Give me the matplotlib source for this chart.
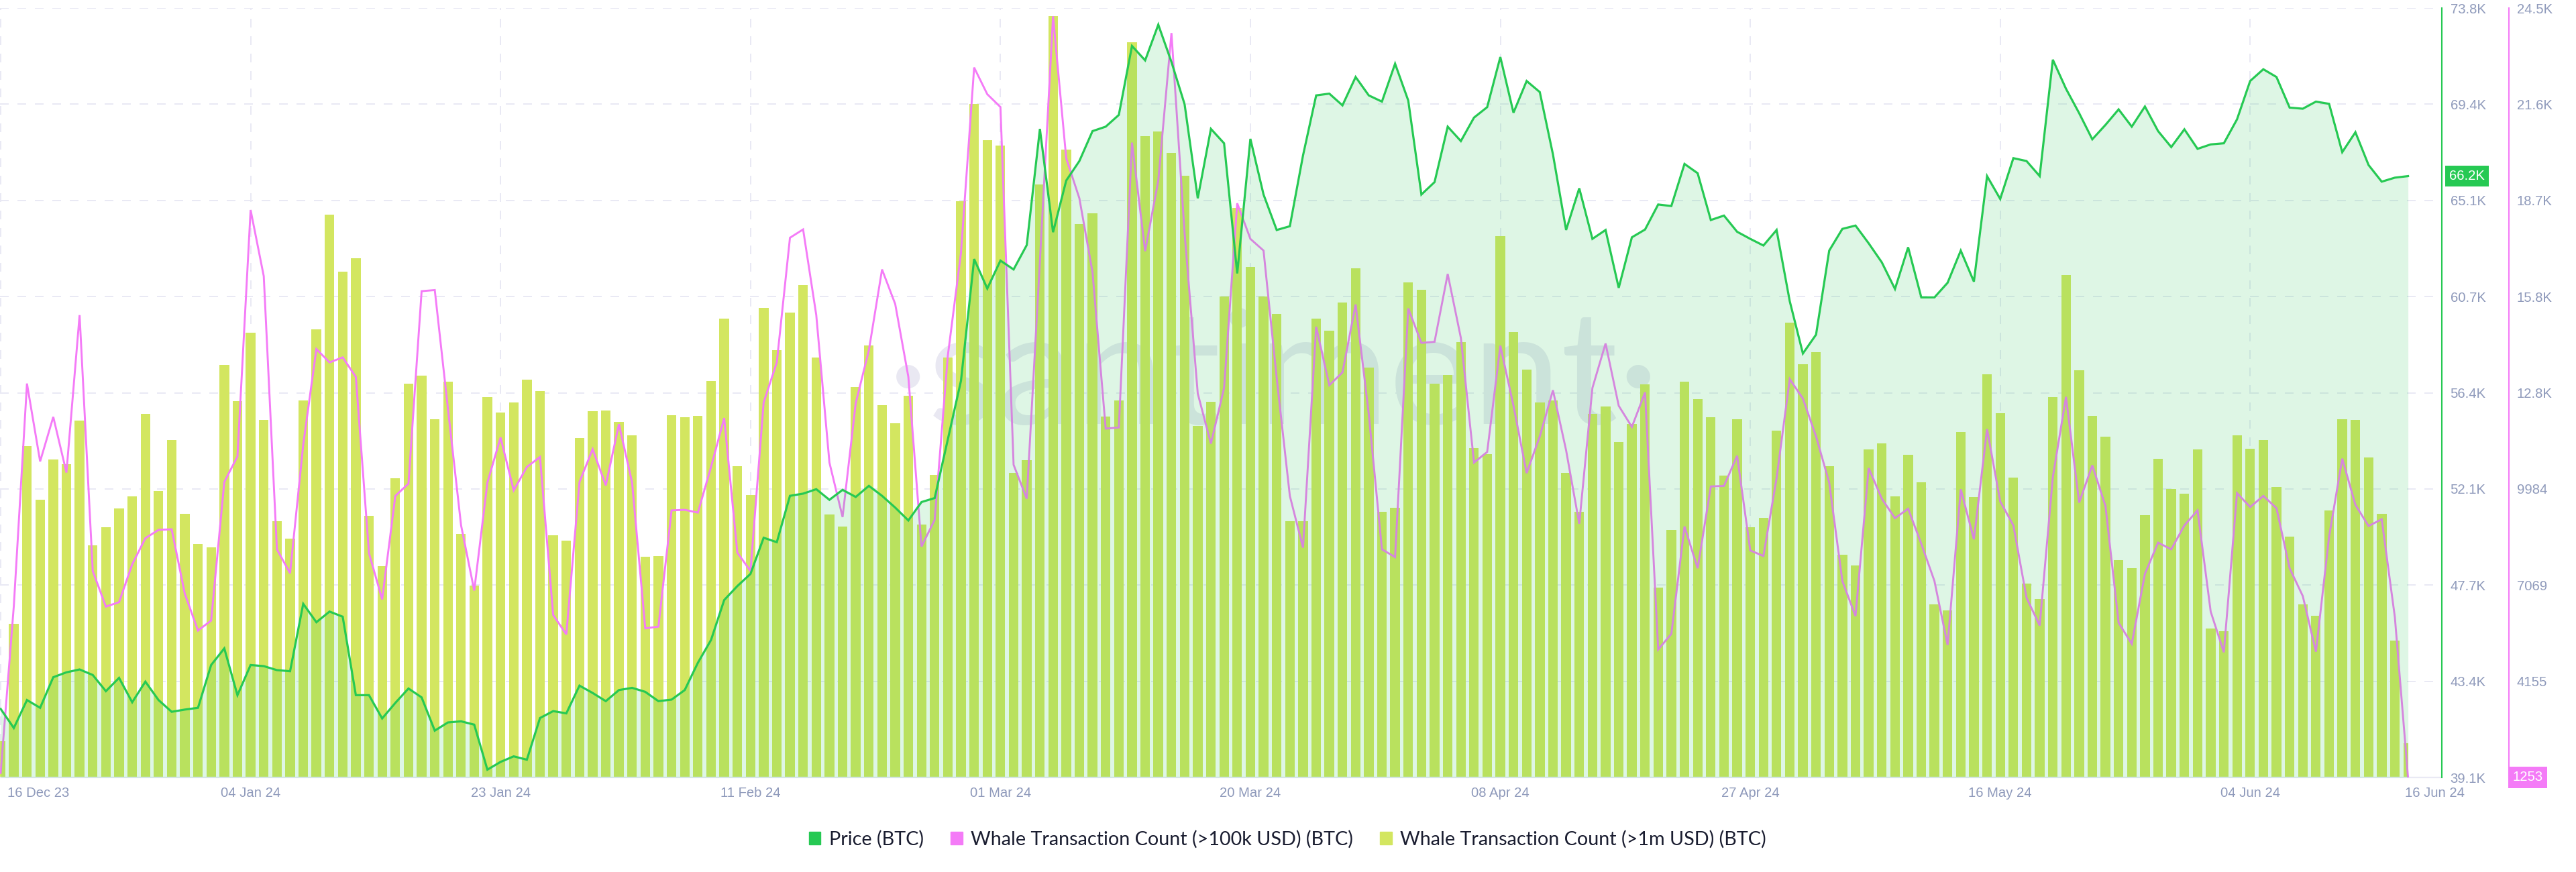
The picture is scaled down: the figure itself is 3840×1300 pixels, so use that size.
import matplotlib
matplotlib.use('Agg')
import matplotlib.dates as mdates
import matplotlib.pyplot as plt
import matplotlib.transforms as mtransforms
import numpy as np
import pandas as pd
from matplotlib.patches import Patch

dates = pd.date_range('2023-12-16', '2024-06-16', freq='D')

price_k = [
    42.19, 41.33, 42.59, 42.24, 43.62, 43.84, 43.97, 43.72, 42.99, 43.59, 42.49, 43.42, 42.59, 42.06, 42.16, 42.24,
    44.17, 44.92, 42.81, 44.17, 44.12, 43.94, 43.89, 46.93, 46.10, 46.58, 46.35, 42.81, 42.81, 41.76, 42.46, 43.11,
    42.71, 41.21, 41.58, 41.63, 41.48, 39.45, 39.80, 40.05, 39.90, 41.78, 42.09, 41.99, 43.24, 42.91, 42.54, 43.04,
    43.14,
    42.96, 42.54, 42.61, 43.04, 44.27, 45.30, 47.10, 47.73, 48.28, 49.91, 49.71, 51.80, 51.90, 52.10, 51.62, 52.07,
    51.75, 52.25, 51.80, 51.27, 50.69, 51.52, 51.70, 54.35, 56.99, 62.48, 61.15, 62.41, 62.01, 63.11, 68.35, 63.69,
    66.02, 66.90, 68.25, 68.45, 68.98, 72.09, 71.44, 73.05, 71.37, 69.46, 65.22, 68.35, 67.70, 61.83, 67.90, 65.39,
    63.79,
    63.96, 67.15, 69.86, 69.94, 69.41, 70.69, 69.86, 69.58, 71.29, 69.63, 65.39, 65.95, 68.45, 67.80, 68.86, 69.33,
    71.59, 69.08, 70.51, 70.01, 67.20, 63.79, 65.67, 63.39, 63.79, 61.18, 63.46, 63.81, 64.94, 64.87, 66.77, 66.35,
    64.24, 64.44, 63.71, 63.39, 63.09, 63.79, 60.58, 58.22, 59.07, 62.86, 63.84, 63.99, 63.19, 62.33, 61.13, 63.01,
    60.75,
    60.75, 61.41, 62.86, 61.46, 66.22, 65.19, 67.03, 66.90, 66.22, 71.47, 70.16, 69.06, 67.88, 68.53, 69.23, 68.45,
    69.36, 68.25, 67.53, 68.33, 67.45, 67.65, 67.70, 68.78, 70.51, 71.04, 70.69, 69.31, 69.26, 69.58, 69.48, 67.30,
    68.20, 66.72, 65.97, 66.15, 66.22,
]

whale_100k = [
    1387, 6430, 13154, 10801, 12146, 10465, 15222, 7490, 6414, 6548, 7691, 8481, 8733, 8750, 6800, 5691,
    5993, 10179, 10952, 18399, 16399, 8145, 7422, 11305, 14197, 13793, 13945, 13356, 8027, 6632, 9759, 10129,
    15945, 15979, 12398, 8868, 6901, 10162, 11524, 9927, 10633, 10936, 6162, 5573, 10179, 11171, 10078, 11927,
    10162,
    5758, 5809, 9322, 9339, 9255, 10633, 12112, 8044, 7490, 12583, 13793, 17559, 17811, 15222, 10767, 9120,
    12566, 14163, 16601, 15558, 13356, 8229, 9036, 13995, 17105, 22703, 21896, 21509, 10700, 9675, 16853, 24249,
    19963, 18752, 16516, 11793, 11826, 20433, 17155, 19290, 23745, 17693, 12852, 11339, 13020, 18601, 17525, 17172,
    13323,
    9759, 8196, 14869, 13104, 13491, 15542, 12230, 8145, 7910, 15424, 14382, 14415, 16466, 14533, 10767, 11087,
    14298, 12482, 10448, 11558, 12953, 11137, 8918, 13020, 14365, 12482, 11843, 12886, 5119, 5590, 8834, 7574,
    10045, 10061, 10969, 8111, 7943, 10297, 13289, 12701, 11558, 10162, 7187, 6128, 10599, 9675, 9086, 9372,
    8313,
    7187, 5254, 9961, 8448, 11776, 9591, 8868, 6683, 5842, 10330, 12751, 9557, 10683, 9456, 5926, 5287,
    7405, 8347, 8145, 8868, 9322, 6262, 5035, 9843, 9423, 9759, 9389, 7574, 6733, 5052, 8532, 10885,
    9490, 8851, 9053, 6094, 1253,
]

# the >1m series has no axis of its own in the chart, so these are on a relative scale
whale_1m = [
    65, 276, 596, 499, 572, 563, 642, 417, 450, 484, 505, 654, 515, 607, 474, 420,
    414, 741, 676, 800, 643, 460, 429, 678, 806, 1012, 909, 933, 470, 380, 538, 708,
    722, 644, 711, 438, 345, 684, 656, 674, 715, 695, 435, 426, 610, 658, 660, 639,
    615,
    397, 398, 651, 648, 650, 712, 825, 559, 508, 844, 768, 835, 885, 755, 473, 451,
    702, 776, 669, 637, 686, 455, 544, 755, 1036, 1211, 1146, 1136, 548, 570, 1066, 1368,
    1129, 995, 1014, 649, 678, 1321, 1153, 1161, 1123, 1082, 632, 675, 864, 1024, 917, 864,
    833,
    461, 460, 825, 803, 854, 915, 737, 478, 485, 890, 877, 708, 724, 783, 592, 581,
    973, 801, 733, 674, 678, 548, 478, 653, 667, 603, 636, 707, 341, 445, 711, 680,
    648, 543, 644, 450, 467, 623, 818, 743, 765, 560, 400, 381, 590, 600, 505, 580,
    531,
    311, 300, 621, 504, 725, 655, 539, 349, 321, 684, 903, 732, 650, 613, 391, 376,
    471, 573, 518, 510, 590, 268, 263, 615, 591, 607, 522, 433, 311, 290, 480, 644,
    643, 575, 474, 246, 62,
]

price_labels = ['39.1K', '43.4K', '47.7K', '52.1K', '56.4K', '60.7K', '65.1K', '69.4K', '73.8K']
whale_labels = ['', '4155', '7069', '9984', '12.8K', '15.8K', '18.7K', '21.6K', '24.5K']
date_ticks = ['2023-12-16', '2024-01-04', '2024-01-23', '2024-02-11', '2024-03-01',
              '2024-03-20', '2024-04-08', '2024-04-27', '2024-05-16', '2024-06-04']

GREEN = '#26c953'
PINK = '#f47bf7'
LIME = '#d3e660'
GRID = '#e9e9f4'
TICK = '#8f9abb'
TEXT = '#1a1d30'

plt.rcParams['font.family'] = ['Liberation Sans', 'DejaVu Sans']

fig = plt.figure(figsize=(38.4, 13), dpi=100)
ax = fig.add_axes([0, 1 - 1159 / 1300, 3640 / 3840, (1159 - 12) / 1300])
ax_pink = ax.twinx()
ax_price = ax.twinx()

x = mdates.date2num(dates)
grid_dash = (0, (6.5, 6.5))

# base axes: grid, watermark, bars
tick_x = mdates.date2num(pd.to_datetime(date_ticks))
for tx in tick_x:
    ax.axvline(tx, color=GRID, lw=1.44, linestyle=grid_dash, zorder=1)
for gy in np.linspace(0, 1, 9):
    ax.axhline(gy * 1383, color=GRID, lw=1.44, linestyle=grid_dash, zorder=1)
ax.text(0.5215, 0.4595, '·santiment·', transform=ax.transAxes, family='Lato',
        fontsize=170, color='#e9e8f2', ha='center', va='baseline', zorder=1.5)

ax.bar(x[:-1], whale_1m[:-1], width=0.73, color=LIME, zorder=2)
ax.bar(x[-1] - 0.18, whale_1m[-1], width=0.36, color=LIME, zorder=2)
ax.set_ylim(0, 1383)
ax.set_xlim(x[0] - 0.05, x[0] + 185.57)
ax.set_yticks([])
for side in ['top', 'left', 'right']:
    ax.spines[side].set_visible(False)
ax.spines['bottom'].set_color(GRID)
ax.spines['bottom'].set_linewidth(1.6)

ax.set_xticks(list(tick_x) + [x[-1]])
tick_texts = [pd.Timestamp(d).strftime('%d %b %y') for d in date_ticks] + ['16 Jun 24']
ax.set_xticklabels(tick_texts)
ax.tick_params(axis='x', length=0, pad=10, labelsize=14.6, labelcolor=TICK)
labels = ax.get_xticklabels()
labels[0].set_ha('left')
labels[0].set_transform(labels[0].get_transform() + mtransforms.ScaledTranslation(10 / 100, 0, fig.dpi_scale_trans))
labels[-1].set_transform(labels[-1].get_transform() + mtransforms.ScaledTranslation(40 / 100, 0, fig.dpi_scale_trans))

# pink axis
ax_pink.plot(x, whale_100k, color=PINK, lw=2.1, solid_joinstyle='miter', zorder=3)
ax_pink.set_ylim(1253, 24500)
ax_pink.set_yticks(np.linspace(1253, 24500, 9))
ax_pink.set_yticklabels(whale_labels)
ax_pink.spines['right'].set_position(('axes', 3740 / 3640 * 1.0))
ax_pink.spines['right'].set_color(PINK)
ax_pink.spines['right'].set_linewidth(1.5)
for side in ['top', 'left', 'bottom']:
    ax_pink.spines[side].set_visible(False)
ax_pink.tick_params(axis='y', length=0, pad=8.5, labelsize=14.6, labelcolor=TICK)

# green axis, drawn last so its area tints everything below
ax_price.fill_between(x, price_k, 39.1, color=GREEN, alpha=0.15, lw=0)
ax_price.plot(x, price_k, color=GREEN, lw=2.3, solid_joinstyle='miter')
ax_price.set_ylim(39.1, 73.8)
ax_price.set_yticks(np.linspace(39.1, 73.8, 9))
ax_price.set_yticklabels(price_labels)
ax_price.spines['right'].set_color(GREEN)
ax_price.spines['right'].set_linewidth(1.5)
for side in ['top', 'left', 'bottom']:
    ax_price.spines[side].set_visible(False)
ax_price.tick_params(axis='y', length=0, pad=9, labelsize=14.6, labelcolor=TICK)

# last value badges
ax_price.text(1.0103, price_k[-1], '66.2K', transform=ax_price.get_yaxis_transform(), ha='center', va='center',
              fontsize=14.6, color='white', clip_on=False, zorder=5,
              bbox=dict(boxstyle='square,pad=0.3', fc=GREEN, ec='none'))
ax_pink.text(1.0352, whale_100k[-1], '1253', transform=ax_pink.get_yaxis_transform(), ha='center', va='center',
             fontsize=14.6, color='white', clip_on=False, zorder=5,
             bbox=dict(boxstyle='square,pad=0.3', fc=PINK, ec='none'))

handles = [Patch(color=GREEN, label='Price (BTC)'),
           Patch(color=PINK, label='Whale Transaction Count (>100k USD) (BTC)'),
           Patch(color=LIME, label='Whale Transaction Count (>1m USD) (BTC)')]
fig.legend(handles=handles, loc='center', bbox_to_anchor=(1919 / 3840, 1 - 1251 / 1300), ncols=3, frameon=False,
           prop={'family': 'Lato', 'size': 20.7}, labelcolor=TEXT, handlelength=0.62, handleheight=0.62,
           handletextpad=0.42, columnspacing=1.4)

fig.savefig('out.png', dpi=100)
